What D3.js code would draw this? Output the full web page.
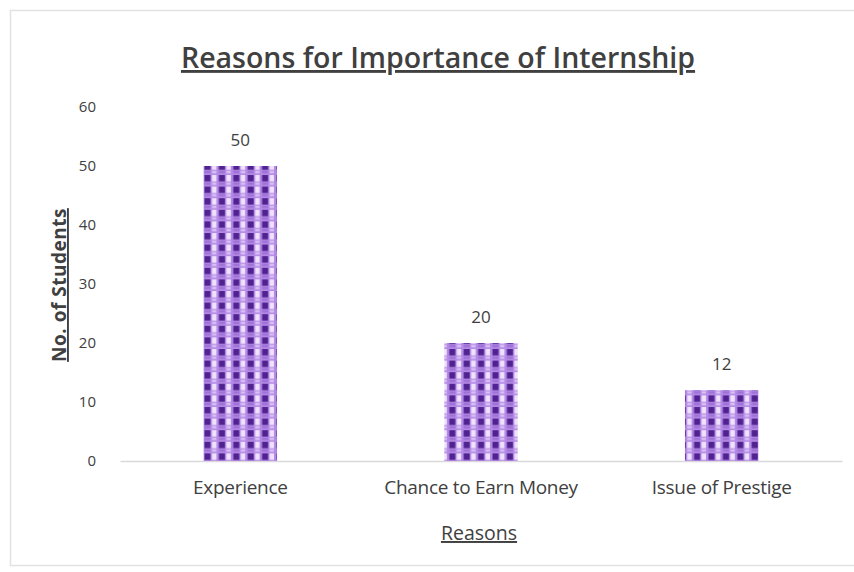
<!DOCTYPE html>
<html>
<head>
<meta charset="utf-8">
<script src="https://cdn.jsdelivr.net/npm/d3@7"></script>
<style>
  html, body { margin: 0; padding: 0; background: #fff; }
  svg { display: block; }
  text { font-family: "Open Sans", "Noto Sans", sans-serif; fill: #404040; }
</style>
</head>
<body>
<svg id="chart" width="854" height="572"></svg>
<script>
// Survey results: why students consider an internship important
const categories = ["Experience", "Chance to Earn Money", "Issue of Prestige"];
const students = [50, 20, 12];
const yTicks = [0, 10, 20, 30, 40, 50, 60];

const chartTitle = "Reasons for Importance of Internship";
const xTitle = "Reasons";
const yTitle = "No. of Students";

const plot = { left: 120, right: 842, top: 107, bottom: 461 };

const svg = d3.select("#chart");

// chart frame
svg.append("rect")
  .attr("x", 10.5).attr("y", 10.5)
  .attr("width", 860).attr("height", 555)
  .attr("fill", "#fff")
  .attr("stroke", "#e2e2e2").attr("stroke-width", 1.5);

// checkered fill used by the bars
const defs = svg.append("defs");
const pat = defs.append("pattern")
  .attr("id", "checker")
  .attr("patternUnits", "userSpaceOnUse")
  .attr("width", 14.4).attr("height", 11.6)
  .attr("x", 203).attr("y", 0);
pat.append("rect").attr("width", 14.4).attr("height", 11.6).attr("fill", "#b48ae6");
pat.append("rect").attr("x", 1.5).attr("y", 1).attr("width", 6).attr("height", 6.4).attr("fill", "#4f2290");
pat.append("rect").attr("x", 9).attr("y", 1).attr("width", 4.4).attr("height", 6.4).attr("fill", "#efe3fb");
pat.append("rect").attr("x", 9).attr("y", 8.4).attr("width", 4.4).attr("height", 2.6).attr("fill", "#d6bff2");
pat.append("rect").attr("x", 1.5).attr("y", 8.4).attr("width", 6).attr("height", 2.6).attr("fill", "#9f72d8");

const x = d3.scaleBand()
  .domain(categories)
  .range([plot.left, plot.right])
  .paddingInner(0.695)
  .paddingOuter(0.3475);

const y = d3.scaleLinear()
  .domain([0, 60])
  .range([plot.bottom, plot.top]);

// y axis labels (no axis line or ticks)
const yAxis = d3.axisLeft(y).tickValues(yTicks).tickSize(0).tickPadding(0);
const yG = svg.append("g")
  .attr("transform", `translate(${plot.left - 24},0)`)
  .call(yAxis);
yG.select(".domain").remove();
yG.selectAll("text")
  .attr("fill", "#595959")
  .style("font-size", "15px");

// x axis with baseline
const xAxis = d3.axisBottom(x).tickSize(0).tickPadding(20);
const xG = svg.append("g")
  .attr("transform", `translate(0,${plot.bottom})`)
  .call(xAxis);
xG.select(".domain")
  .attr("stroke", "#d9d9d9").attr("stroke-width", 1.5);
xG.selectAll("text")
  .attr("fill", "#404040")
  .style("font-size", "19px")
  .style("letter-spacing", "-0.3px");

// bars
svg.append("g").selectAll("rect")
  .data(categories)
  .join("rect")
  .attr("x", d => x(d))
  .attr("y", (d, i) => y(students[i]))
  .attr("width", x.bandwidth())
  .attr("height", (d, i) => y(0) - y(students[i]))
  .attr("fill", "url(#checker)");

// value labels
svg.append("g").selectAll("text")
  .data(categories)
  .join("text")
  .attr("x", d => x(d) + x.bandwidth() / 2)
  .attr("y", (d, i) => y(students[i]) - 20)
  .attr("text-anchor", "middle")
  .attr("fill", "#595959")
  .style("font-size", "17px")
  .text((d, i) => students[i]);

// chart title
svg.append("text")
  .attr("x", 438).attr("y", 68)
  .attr("text-anchor", "middle")
  .style("font-size", "28.5px")
  .style("font-weight", "600")
  .style("text-decoration", "underline")
  .text(chartTitle);

// axis titles
svg.append("text")
  .attr("x", 479).attr("y", 540)
  .attr("text-anchor", "middle")
  .style("font-size", "19.5px")
  .style("text-decoration", "underline")
  .text(xTitle);

svg.append("text")
  .attr("transform", "translate(66,285) rotate(-90)")
  .attr("text-anchor", "middle")
  .style("font-size", "19px")
  .style("font-weight", "700")
  .style("letter-spacing", "0.5px")
  .style("text-decoration", "underline")
  .text(yTitle);
</script>
</body>
</html>
